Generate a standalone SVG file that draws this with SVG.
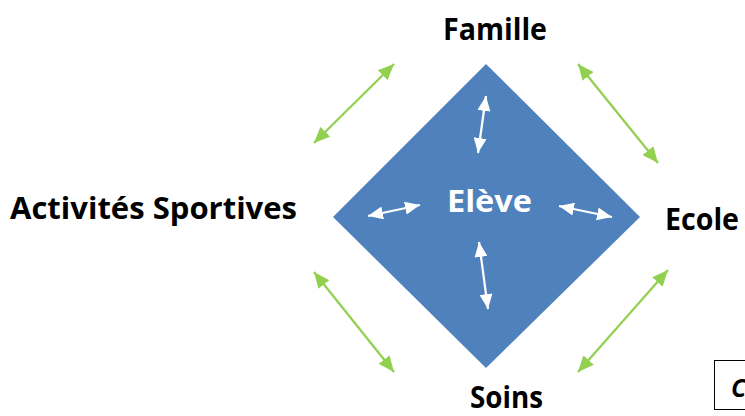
<svg xmlns="http://www.w3.org/2000/svg" width="745" height="416" viewBox="0 0 745 416">
<style>
.lbl{font-family:"Open Sans","Liberation Sans",sans-serif;font-weight:bold;font-size:30px;fill:#000}
.g{stroke:#92D050;stroke-width:2.25;fill:none;marker-start:url(#ga);marker-end:url(#ga)}
.w{stroke:#FFFFFF;stroke-width:2.25;fill:none;marker-start:url(#wa);marker-end:url(#wa)}
</style>
<defs>
<marker id="ga" markerUnits="userSpaceOnUse" markerWidth="16" markerHeight="14" refX="16" refY="7" orient="auto-start-reverse" viewBox="0 0 16 14">
<path d="M0,0 L16,7 L0,14 Z" fill="#92D050"/>
</marker>
<marker id="wa" markerUnits="userSpaceOnUse" markerWidth="15" markerHeight="13" refX="15" refY="6.5" orient="auto-start-reverse" viewBox="0 0 15 13">
<path d="M0,0 L15,6.5 L0,13 Z" fill="#FFFFFF"/>
</marker>
</defs>
<g id="eleve">
<polygon points="486,64 640,217 486,368 333,217" fill="#4F81BD"/>
<text x="447" y="212" class="lbl" style="fill:#FFFFFF" textLength="85" lengthAdjust="spacingAndGlyphs">Elève</text>
</g>
<g id="famille"><text x="443" y="40" class="lbl" textLength="104" lengthAdjust="spacingAndGlyphs">Famille</text></g>
<g id="activites"><text x="10" y="219" class="lbl" textLength="287" lengthAdjust="spacingAndGlyphs">Activités Sportives</text></g>
<g id="ecole"><text x="665" y="230" class="lbl" textLength="74" lengthAdjust="spacingAndGlyphs">Ecole</text></g>
<g id="soins"><text x="470" y="408" class="lbl" textLength="73" lengthAdjust="spacingAndGlyphs">Soins</text></g>
<g id="note">
<rect x="714.5" y="360.5" width="40" height="49" fill="none" stroke="#000" stroke-width="1"/>
<text x="731" y="397" style="font-family:'Open Sans','Liberation Sans',sans-serif;font-weight:bold;font-style:italic;font-size:25px;fill:#000">C</text>
</g>
<g id="connectors">
<line class="g" x1="394" y1="64" x2="314" y2="143"/>
<line class="g" x1="578" y1="64" x2="658" y2="163"/>
<line class="g" x1="314" y1="272" x2="394" y2="372"/>
<line class="g" x1="668" y1="270" x2="578" y2="372"/>
<line class="w" x1="486" y1="96" x2="478" y2="153"/>
<line class="w" x1="368" y1="216" x2="420" y2="205"/>
<line class="w" x1="559" y1="206" x2="612" y2="217"/>
<line class="w" x1="479" y1="242" x2="488" y2="309"/>
</g>
</svg>
